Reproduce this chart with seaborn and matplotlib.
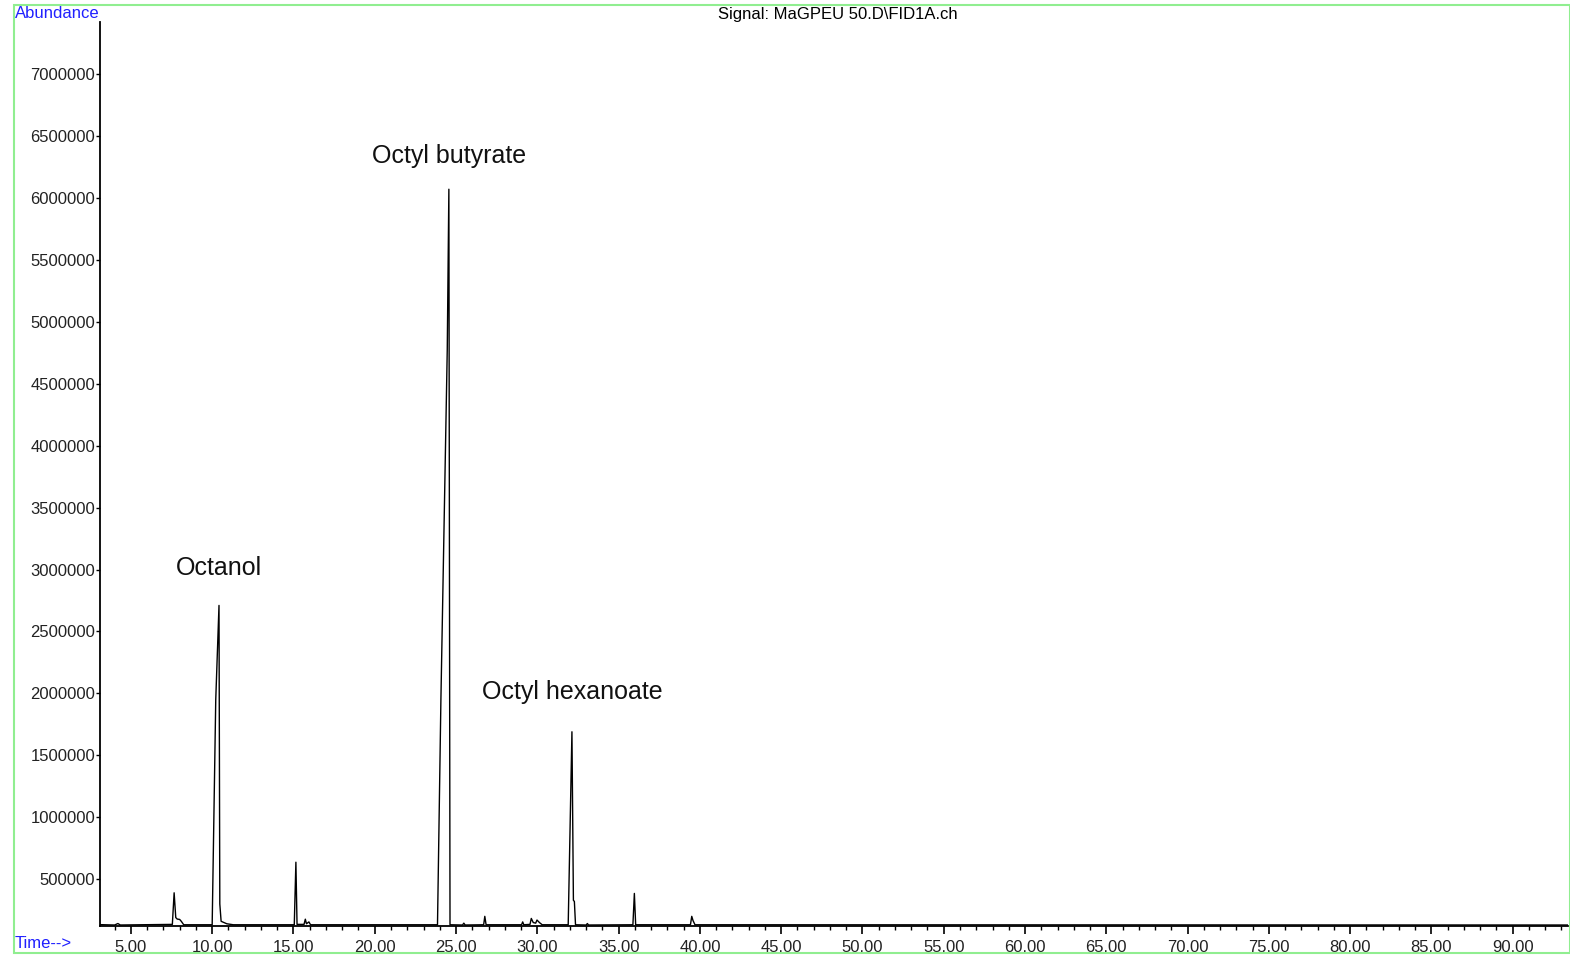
import matplotlib
matplotlib.use("Agg")
import matplotlib.pyplot as plt
import matplotlib.patches as mpatches
from matplotlib.ticker import MultipleLocator, FixedLocator
import pandas as pd
import seaborn as sns

# chromatogram trace (time in min, abundance)
times = [3.1, 4.0, 4.2, 4.35,
         7.55, 7.66, 7.76, 7.85, 8.0, 8.1, 8.25,
         10.0, 10.22, 10.42, 10.47, 10.55, 10.9, 11.3,
         15.05, 15.15, 15.22, 15.65, 15.73, 15.8, 15.95, 16.05,
         23.86, 24.07, 24.46, 24.56, 24.63,
         25.4, 25.48, 25.56,
         26.7, 26.77, 26.85,
         29.03, 29.1, 29.17, 29.55, 29.63, 29.75, 29.9, 29.98, 30.13, 30.3,
         31.9, 32.13, 32.22, 32.28, 32.35,
         33.0, 33.08, 33.15,
         35.88, 35.97, 36.05,
         39.42, 39.5, 39.58, 39.7,
         93.4]
abundance = [133000, 130000, 142000, 130000,
             135000, 390000, 190000, 178000, 175000, 160000, 132000,
             132000, 1950000, 2710000, 300000, 160000, 140000, 132000,
             132000, 637000, 135000, 135000, 177000, 140000, 155000, 132000,
             132000, 1950000, 4770000, 6070000, 132000,
             130000, 145000, 130000,
             132000, 200000, 132000,
             132000, 155000, 132000, 135000, 183000, 150000, 145000, 170000, 150000, 132000,
             132000, 1690000, 330000, 320000, 132000,
             130000, 142000, 130000,
             132000, 385000, 132000,
             132000, 200000, 165000, 132000,
             130000]

peak_names = ["Octanol", "Octyl butyrate", "Octyl hexanoate"]
peak_label_x = [10.4, 24.57, 32.15]
peak_label_y = [3010000, 6340000, 2010000]

y_ticks = list(range(500000, 7000001, 500000))
x_major = list(range(5, 91, 5))

df = pd.DataFrame({"time": times, "abundance": abundance})

sns.set_style("white")
plt.rcParams["font.family"] = ["Liberation Sans", "DejaVu Sans"]

fig = plt.figure(figsize=(15.7, 9.57), dpi=100)
ax = fig.add_axes([100 / 1570, 31 / 957, 1468 / 1570, 904 / 957])

sns.lineplot(data=df, x="time", y="abundance", estimator=None, sort=False,
             color="black", linewidth=1.0, ax=ax)

ax.set_xlim(3.1, 93.4)
ax.set_ylim(122000, 7420000)
ax.set_xlabel("")
ax.set_ylabel("")

ax.yaxis.set_major_locator(FixedLocator(y_ticks))
ax.set_yticklabels([str(v) for v in y_ticks])
ax.xaxis.set_major_locator(FixedLocator(x_major))
ax.set_xticklabels([f"{v:.2f}" for v in x_major])
ax.xaxis.set_minor_locator(MultipleLocator(1))

ax.tick_params(axis="y", which="major", left=True, direction="out", length=3,
               width=1, color="black", labelsize=12, labelcolor="#222222", pad=0.5)
ax.tick_params(axis="x", which="major", bottom=True, direction="out", length=6,
               width=1.2, color="black", labelsize=12, labelcolor="#222222", pad=4)
ax.tick_params(axis="x", which="minor", bottom=True, direction="out", length=3,
               width=1, color="black")

for side in ["top", "right"]:
    ax.spines[side].set_visible(False)
for side in ["left", "bottom"]:
    ax.spines[side].set_color("black")
    ax.spines[side].set_linewidth(1.3)

for name, lx, ly in zip(peak_names, peak_label_x, peak_label_y):
    ax.text(lx, ly, name, ha="center", va="center", fontsize=18, color="#111111")

fig.text(15 / 1570, 1 - 14 / 957, "Abundance", color="#2020ff", fontsize=12,
         ha="left", va="center")
fig.text(15 / 1570, 1 - 944 / 957, "Time-->", color="#2020ff", fontsize=12,
         ha="left", va="center")
fig.text(838 / 1570, 1 - 14 / 957, "Signal: MaGPEU 50.D\\FID1A.ch", color="black",
         fontsize=12, ha="center", va="center")

frame = mpatches.Rectangle((14 / 1570, 4 / 957), 1556 / 1570, 948 / 957,
                           transform=fig.transFigure, fill=False,
                           edgecolor="#90ee90", linewidth=1.5)
fig.patches.append(frame)

fig.savefig("out.png", dpi=100)
plt.close(fig)
